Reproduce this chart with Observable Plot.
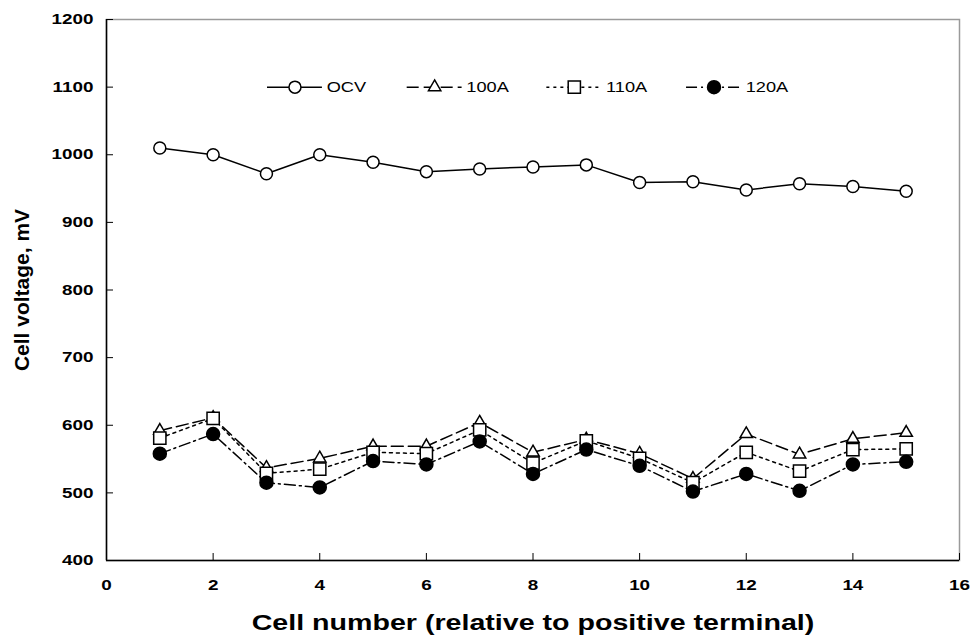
<!DOCTYPE html>
<html>
<head>
<meta charset="utf-8">
<script src="https://cdn.jsdelivr.net/npm/d3@7"></script>
<script src="https://cdn.jsdelivr.net/npm/@observablehq/plot@0.6"></script>
<style>
  html, body { margin: 0; padding: 0; background: #fff; }
</style>
</head>
<body>
<div id="chart"></div>
<script>
// ---- data ----
const cells = [1, 2, 3, 4, 5, 6, 7, 8, 9, 10, 11, 12, 13, 14, 15];
const ocv   = [1010, 1000, 972, 1000, 989, 975, 979, 982, 985, 959, 960, 948, 957, 953, 946];
const a100  = [592, 611, 537, 551, 569, 569, 604, 560, 579, 558, 521, 587, 557, 580, 589];
const a110  = [581, 610, 529, 535, 560, 558, 593, 544, 577, 551, 515, 560, 532, 564, 565];
const a120  = [558, 587, 515, 508, 547, 542, 576, 528, 564, 540, 502, 528, 503, 542, 546];
const seriesNames = ["OCV", "100A", "110A", "120A"];
const xTicks = [0, 2, 4, 6, 8, 10, 12, 14, 16];
const yTicks = [400, 500, 600, 700, 800, 900, 1000, 1100, 1200];
const xLabel = "Cell number (relative to positive terminal)";
const yLabel = "Cell voltage, mV";

const seriesValues = [ocv, a100, a110, a120];

// ---- styling ----
const styles = {
  "OCV":  {symbol: "circle",   fill: "white", r: 6,   dash: null},
  "100A": {symbol: "triangle", fill: "white", r: 4.6, dash: "12,5"},
  "110A": {symbol: "square",   fill: "white", r: 6.9, dash: "3,4"},
  "120A": {symbol: "circle",   fill: "black", r: 6.5, dash: "11,4,2,4"}
};
const textStretch = 1.3; // the reference text is drawn horizontally widened

const rows = [];
seriesNames.forEach((name, si) => {
  cells.forEach((c, i) => rows.push({series: name, cell: c, v: seriesValues[si][i]}));
});

// legend layout (in data units of the chart's scales)
const legendY = 1100;
const legendStart = 3.02, legendStep = 2.62, legendLen = 1.03;
const legendRows = seriesNames.map((name, i) => {
  const x0 = legendStart + i * legendStep;
  return {series: name, x0, x1: x0 + legendLen, xm: x0 + legendLen / 2, xt: x0 + legendLen + 0.08, y: legendY};
});

const marks = [
  Plot.frame({stroke: "#9a9a9a", strokeWidth: 1.5}),
  Plot.ruleX([0], {stroke: "black", strokeWidth: 1.5}),
  Plot.ruleY([400], {stroke: "black", strokeWidth: 1.5}),
  Plot.axisY(yTicks, {tickSize: -7, tickPadding: 20, tickFormat: d => String(d), fontWeight: "bold", fontSize: 14.5, fill: "black", label: null}),
  Plot.axisX(xTicks, {tickSize: -7, tickPadding: 26, tickFormat: d => String(d), fontWeight: "bold", fontSize: 14.5, fill: "black", label: null}),
  Plot.text([yLabel], {frameAnchor: "left", textAnchor: "middle", lineAnchor: "middle", dx: -84, rotate: -90, fontSize: 21, fontWeight: "bold", fill: "black"}),
  Plot.text([xLabel], {frameAnchor: "bottom", textAnchor: "middle", lineAnchor: "middle", dy: 62, fontSize: 22, fontWeight: "bold", fill: "black"})
];

seriesNames.forEach(name => {
  const st = styles[name];
  const data = rows.filter(d => d.series === name);
  marks.push(Plot.line(data, {x: "cell", y: "v", stroke: "black", strokeWidth: 1.5, strokeDasharray: st.dash}));
});
seriesNames.forEach(name => {
  const st = styles[name];
  const data = rows.filter(d => d.series === name);
  marks.push(Plot.dot(data, {x: "cell", y: "v", symbol: () => st.symbol, r: st.r, fill: st.fill, stroke: "black", strokeWidth: 1.5}));
  const lg = legendRows.filter(d => d.series === name);
  marks.push(Plot.ruleY(lg, {y: "y", x1: "x0", x2: "x1", stroke: "black", strokeWidth: 1.5, strokeDasharray: st.dash}));
  marks.push(Plot.dot(lg, {x: "xm", y: "y", symbol: () => st.symbol, r: st.r, fill: st.fill, stroke: "black", strokeWidth: 1.5}));
  marks.push(Plot.text(lg, {x: "xt", y: "y", text: "series", textAnchor: "start", fontSize: 14, fill: "black"}));
});

const chart = Plot.plot({
  width: 973,
  height: 639,
  marginLeft: 106,
  marginRight: 14,
  marginTop: 19,
  marginBottom: 79,
  x: {domain: [0, 16]},
  y: {domain: [400, 1200]},
  symbol: {type: "identity"},
  style: {fontFamily: "'Liberation Sans', Arial, sans-serif", background: "white", color: "black"},
  marks
});
document.getElementById("chart").appendChild(chart);

// widen horizontal text to match the reference's proportions
chart.querySelectorAll("text").forEach(t => {
  if (t.textContent === yLabel) return;
  const len = t.getComputedTextLength();
  if (len > 0) {
    t.setAttribute("textLength", (len * textStretch).toFixed(1));
    t.setAttribute("lengthAdjust", "spacingAndGlyphs");
  }
});
</script>
</body>
</html>
